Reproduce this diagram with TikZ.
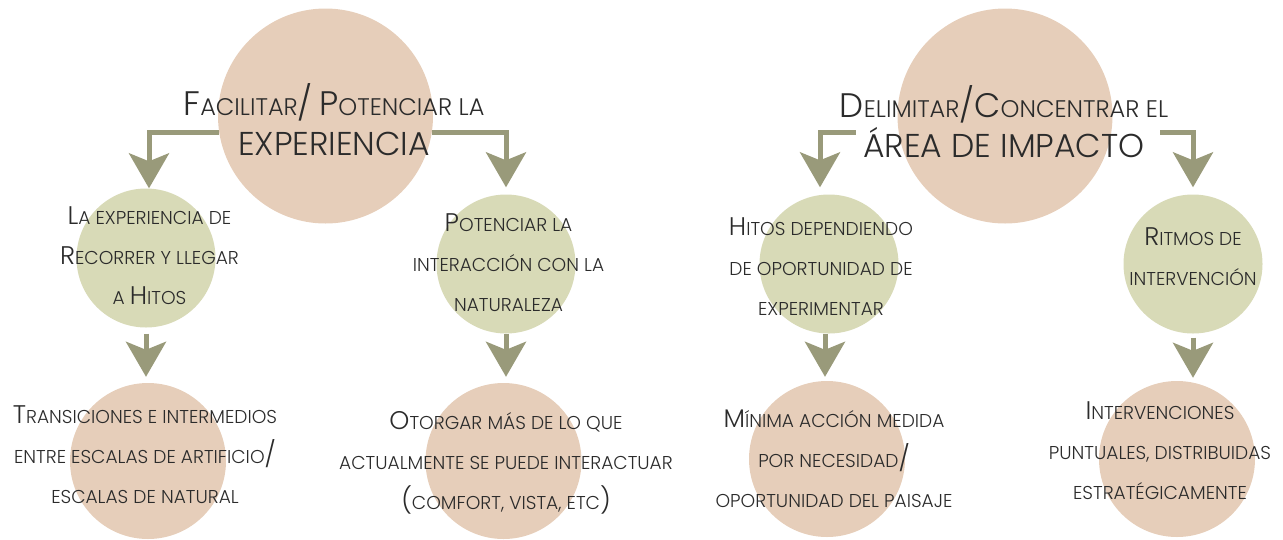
\documentclass[tikz,border=0pt]{standalone}
\usepackage{fontspec}
\setmainfont{Poppins}[UprightFont=* Light]
\usetikzlibrary{arrows.meta,positioning}
\definecolor{pinkfill}{HTML}{E6CEBA}
\definecolor{greenfill}{HTML}{D8DAB7}
\definecolor{olivearrow}{HTML}{999A7A}
\definecolor{inktext}{HTML}{2B2B2B}
\newcommand{\capl}[1]{{\fontsize{25.5pt}{40pt}\selectfont #1}}
\newcommand{\capt}[1]{{\fontsize{34pt}{40pt}\selectfont #1}}
\tikzset{
  bigdot/.style={circle,fill=pinkfill,inner sep=0pt,minimum size=215pt},
  pinkdot/.style={circle,fill=pinkfill,inner sep=0pt,minimum size=156pt},
  greendot/.style={circle,fill=greenfill,inner sep=0pt,minimum size=139pt},
  bodytext/.style={align=center,inner sep=0pt,text=inktext,font=\fontsize{18.6pt}{40pt}\selectfont},
  titletext/.style={align=center,inner sep=0pt,text=inktext,font=\fontsize{24pt}{40pt}\selectfont},
  flowarrow/.style={draw=olivearrow,line width=5pt,-{Stealth[length=35pt,width=40pt,inset=8pt]}}
}

\begin{document}
\begin{tikzpicture}[x=1pt,y=-1pt]
\useasboundingbox (0,0) rectangle (1283,539);
% circles
\node[bigdot] (exp) at (325.5,116) {};
\node[bigdot] (area) at (1005,116) {};
\node[greendot] (hitos) at (146,258) {};
\node[greendot] (natur) at (506,264) {};
\node[greendot] (hitosdep) at (829,264) {};
\node[greendot] (ritmos) at (1193,264) {};
\node[pinkdot] (trans) at (148,461) {};
\node[pinkdot] (otorgar) at (503.5,461) {};
\node[pinkdot] (minima) at (827,459) {};
\node[pinkdot] (interv) at (1177,459) {};
% texts
\node[titletext] (exptext) at (334,120) {\capt{F}ACILITAR\capt{/} \capt{P}OTENCIAR LA\\{\fontsize{33pt}{40pt}\selectfont EXPERIENCIA}};
\node[titletext] (areatext) at (1004,122) {\capt{D}ELIMITAR\capt{/C}ONCENTRAR EL\\{\fontsize{33pt}{40pt}\selectfont ÁREA DE IMPACTO}};
\node[bodytext] (hitostext) at (149.5,256) {\capl{L}A EXPERIENCIA DE\\\capl{R}ECORRER Y LLEGAR\\A \capl{H}ITOS};
\node[bodytext] (naturtext) at (508.5,263) {\capl{P}OTENCIAR LA\\INTERACCIÓN CON LA\\NATURALEZA};
\node[bodytext] (transtext) at (145,455) {\capl{T}RANSICIONES E INTERMEDIOS\\ENTRE ESCALAS DE ARTIFICIO\capl{/}\\ESCALAS DE NATURAL};
\node[bodytext] (otorgartext) at (506,462.5) {\capl{O}TORGAR MÁS DE LO QUE\\ACTUALMENTE SE PUEDE INTERACTUAR\\\capl{(}COMFORT, VISTA, ETC\capl{)}};
\node[bodytext] (hitosdeptext) at (821,267) {\capl{H}ITOS DEPENDIENDO\\DE OPORTUNIDAD DE\\EXPERIMENTAR};
\node[bodytext] (minimatext) at (834,458.5) {\capl{M}ÍNIMA ACCIÓN MEDIDA\\POR NECESIDAD\capl{/}\\OPORTUNIDAD DEL PAISAJE};
\node[bodytext] (ritmostext) at (1193,257) {\capl{R}ITMOS DE\\INTERVENCIÓN};
\node[bodytext] (intervtext) at (1160,451) {\capl{I}NTERVENCIONES\\PUNTUALES, DISTRIBUIDAS\\ESTRATÉGICAMENTE};
% arrows
\draw[flowarrow] (exp.189) -| ([xshift=3pt]hitos.north);
\draw[flowarrow,shorten >=7pt] (exp.-9) -| (natur.north);
\draw[flowarrow,shorten <=43pt,shorten >=7pt] (area.189) -| ([xshift=-9pt]hitosdep.north);
\draw[flowarrow,shorten <=49pt,shorten >=7pt] (area.-9) -| (ritmos.north);
\draw[flowarrow,shorten <=6pt,shorten >=6pt] (hitos.south) -- (hitos.south |- trans.north);
\draw[flowarrow,shorten >=6pt] (natur.south) -- (natur.south |- otorgar.north);
\draw[flowarrow,shorten >=4pt] ([xshift=-4pt]hitosdep.south) -- ([xshift=-4pt]hitosdep.south |- minima.north);
\draw[flowarrow,shorten <=4pt,shorten >=3pt] (ritmos.south) -- (ritmos.south |- interv.north);
\end{tikzpicture}
\end{document}
